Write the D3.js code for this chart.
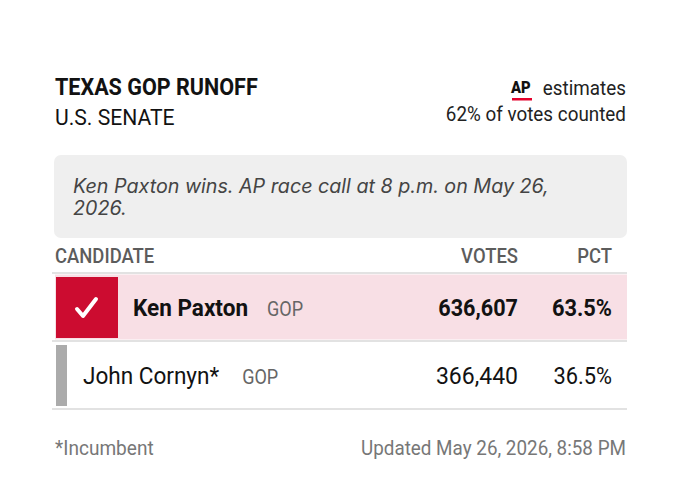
<!DOCTYPE html>
<html>
<head>
<meta charset="utf-8">
<script src="https://cdn.jsdelivr.net/npm/d3@7"></script>
<style>
  body { margin: 0; background: #fff; }
  text { font-family: Roboto, "Noto Sans", sans-serif; }
</style>
</head>
<body>
<svg id="chart" width="680" height="502"></svg>
<script>
// race data
var raceTitle = "TEXAS GOP RUNOFF";
var raceOffice = "U.S. SENATE";
var countedPct = 62;
var callNote = ["Ken Paxton wins. AP race call at 8 p.m. on May 26,", "2026."];
var columns = ["CANDIDATE", "VOTES", "PCT"];
var candidates = ["Ken Paxton", "John Cornyn*"];
var parties = ["GOP", "GOP"];
var votes = [636607, 366440];
var pcts = [63.5, 36.5];
var winners = [true, false];
var footNote = "*Incumbent";
var updated = "Updated May 26, 2026, 8:58 PM";

var svg = d3.select("#chart");

// Roboto squeezed horizontally so it reads like the condensed face
function ctext(g, x, y, str, size, weight, color, anchor, sx) {
	return g.append("text")
		.attr("transform", "translate(" + x + "," + y + ") scale(" + sx + ",1)")
		.attr("text-anchor", anchor || "start")
		.style("font-size", size + "px")
		.style("font-weight", weight)
		.style("fill", color)
		.text(str);
}

var left = 55, right = 627;

// header
ctext(svg, left, 95, raceTitle, 24.5, 700, "#121212", "start", 0.88);
ctext(svg, left, 125, raceOffice, 22.5, 400, "#121212", "start", 0.94);

ctext(svg, right - 1, 95, "estimates", 20.5, 400, "#222", "end", 0.92);
ctext(svg, right - 1, 121, countedPct + "% of votes counted", 20.5, 400, "#222", "end", 0.92);
ctext(svg, 511, 93, "AP", 16.5, 900, "#111", "start", 0.9);
svg.append("rect")
	.attr("x", 512).attr("y", 98)
	.attr("width", 20).attr("height", 2.5)
	.attr("fill", "#e4002b");

// call box
svg.append("rect")
	.attr("x", left - 1).attr("y", 155)
	.attr("width", right - left + 1).attr("height", 83)
	.attr("rx", 7)
	.attr("fill", "#efefef");

svg.selectAll(".note")
	.data(callNote)
	.enter()
	.append("text")
	.attr("class", "note")
	.attr("x", 73)
	.attr("y", function(d, i) { return 193 + i * 22; })
	.style("font-family", "Inter, sans-serif")
	.style("font-style", "italic")
	.style("font-size", "19.7px")
	.style("fill", "#444")
	.text(function(d) { return d; });

// table columns
var colX = { "CANDIDATE": left, "VOTES": 518, "PCT": 612 };
columns.forEach(function(c, i) {
	ctext(svg, colX[c], 263, c, 20.5, 500, "#5c5c5c", i == 0 ? "start" : "end", 0.9);
});

var rows = d3.scaleBand()
	.domain(d3.range(candidates.length))
	.range([273, 409]);

svg.append("line")
	.attr("x1", left - 3).attr("x2", right)
	.attr("y1", rows.range()[0]).attr("y2", rows.range()[0])
	.attr("stroke", "#e2e2e2").attr("stroke-width", 2);

var row = svg.selectAll(".row")
	.data(candidates)
	.enter()
	.append("g")
	.attr("class", "row")
	.attr("transform", function(d, i) { return "translate(0," + rows(i) + ")"; });

var bh = rows.bandwidth();

row.append("rect")
	.attr("x", left).attr("y", 1.5)
	.attr("width", right - left).attr("height", bh - 3)
	.attr("fill", function(d, i) { return winners[i] ? "#f8dfe5" : "#fff"; });

row.append("line")
	.attr("x1", left - 3).attr("x2", right)
	.attr("y1", bh).attr("y2", bh)
	.attr("stroke", "#e2e2e2").attr("stroke-width", 2);

row.each(function(d, i) {
	var g = d3.select(this);
	var win = winners[i];
	var nameX;
	if (win) {
		g.append("rect")
			.attr("x", left + 1).attr("y", 4)
			.attr("width", 62).attr("height", 61)
			.attr("fill", "#cc0c30");
		g.append("path")
			.attr("d", "M77,36 L83,43 L96,26")
			.attr("fill", "none")
			.attr("stroke", "#fff")
			.attr("stroke-width", 4)
			.attr("stroke-linecap", "round")
			.attr("stroke-linejoin", "round");
		nameX = 133;
	} else {
		g.append("rect")
			.attr("x", left + 1).attr("y", 4)
			.attr("width", 11).attr("height", 61)
			.attr("fill", "#ababab");
		nameX = 83;
	}
	var y = 43;
	var nsx = 0.98;
	var nm = ctext(g, nameX, y, d, 23, win ? 700 : 400, "#121212", "start", nsx);
	var w = nm.node().getComputedTextLength() * nsx;
	// the asterisk leaves a little extra room before the party label
	var gap = /\*$/.test(d) ? 23 : 19;
	ctext(g, nameX + w + gap, y, parties[i], 20.5, 400, "#666", "start", 0.88);
	ctext(g, colX["VOTES"], y, d3.format(",")(votes[i]), 23, win ? 700 : 400, "#121212", "end", win ? 0.94 : 1.0);
	ctext(g, colX["PCT"], y, d3.format(".1f")(pcts[i]) + "%", 23, win ? 700 : 400, "#121212", "end", 0.95);
});

// footer
ctext(svg, left, 455, footNote, 20.5, 400, "#777", "start", 0.93);
ctext(svg, right - 1, 455, updated, 20.5, 400, "#777", "end", 0.92);
</script>
</body>
</html>
